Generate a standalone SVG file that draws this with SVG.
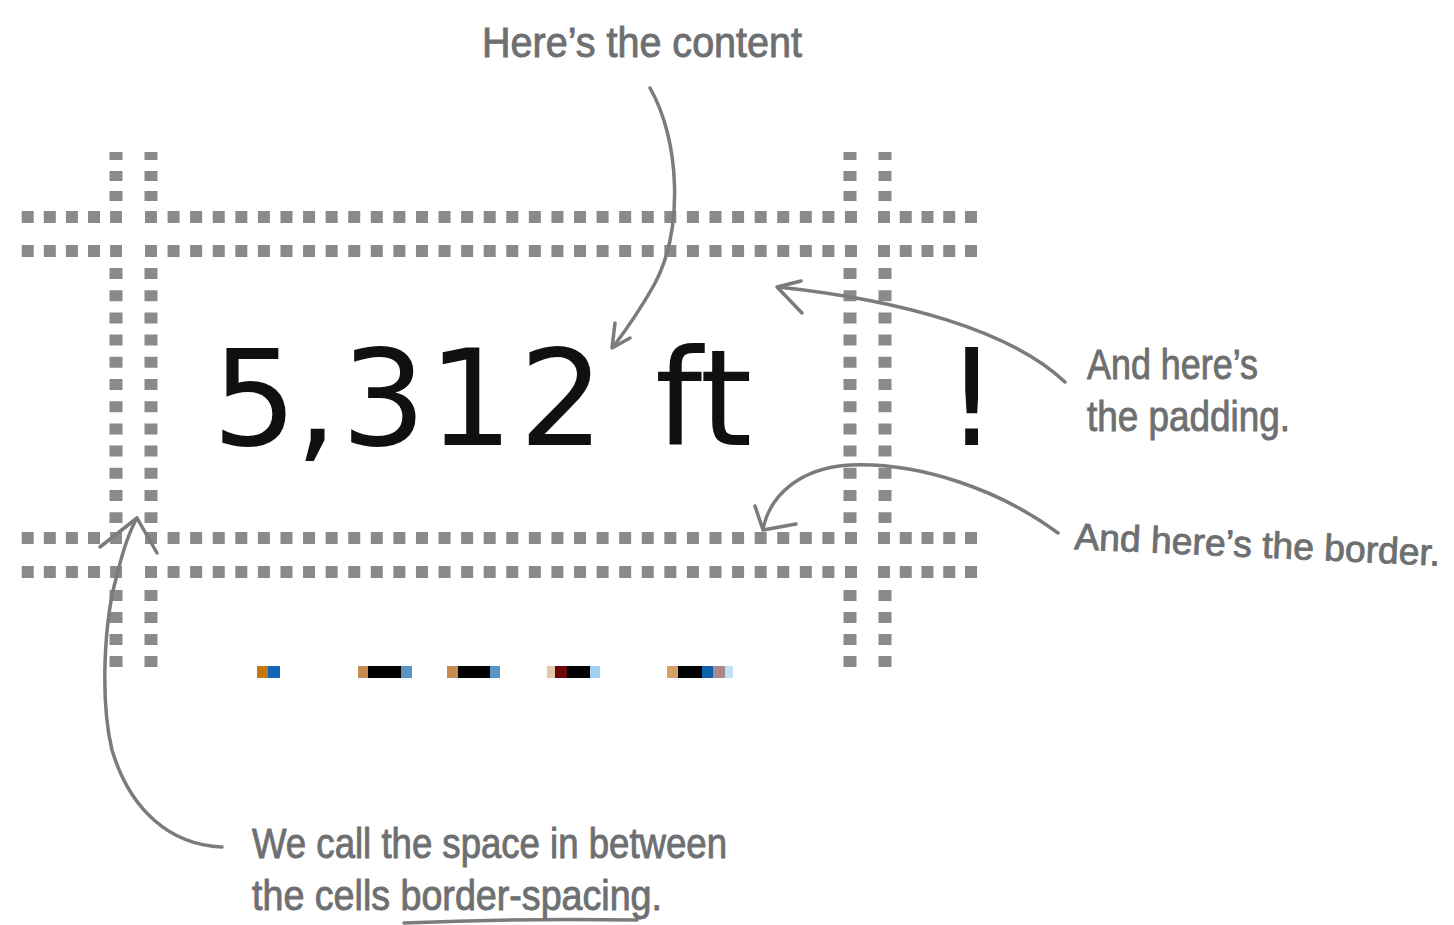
<svg xmlns="http://www.w3.org/2000/svg" width="1454" height="925" viewBox="0 0 1454 925">
  <style>
    .dotH { stroke: #8a8a8a; stroke-width: 12; fill: none; }
    .dotV { stroke: #8a8a8a; stroke-width: 13; fill: none; }
    .note { font-family: "Liberation Sans", Arial, sans-serif; font-size: 42px; fill: #6e6f71; stroke: #6e6f71; stroke-width: 0.9; }
    .note-sm { font-size: 37px; }
    .arrow { stroke: #7a7b7d; stroke-width: 3.5; fill: none; stroke-linecap: round; stroke-linejoin: round; }
    .big { font-family: "DejaVu Sans", Verdana, sans-serif; font-size: 134px; fill: #101010; }
  </style>
  <defs>
    <clipPath id="clipBang"><rect x="900" y="300" width="78" height="200"/></clipPath>
  </defs>
  <rect width="1454" height="925" fill="#ffffff"/>

  <g id="grid">
    <g id="row-lines">
      <line class="dotH" x1="21.7" y1="217" x2="122" y2="217" stroke-dasharray="12 10.1"/>
      <line class="dotH" x1="145" y1="217" x2="857" y2="217" stroke-dasharray="12 10.58"/>
      <line class="dotH" x1="878" y1="217" x2="977" y2="217" stroke-dasharray="12 9.75"/>
      <line class="dotH" x1="21.7" y1="251" x2="122" y2="251" stroke-dasharray="12 10.1"/>
      <line class="dotH" x1="145" y1="251" x2="857" y2="251" stroke-dasharray="12 10.58"/>
      <line class="dotH" x1="878" y1="251" x2="977" y2="251" stroke-dasharray="12 9.75"/>
      <line class="dotH" x1="21.7" y1="538" x2="122" y2="538" stroke-dasharray="12 10.1"/>
      <line class="dotH" x1="145" y1="538" x2="857" y2="538" stroke-dasharray="12 10.58"/>
      <line class="dotH" x1="878" y1="538" x2="977" y2="538" stroke-dasharray="12 9.75"/>
      <line class="dotH" x1="21.7" y1="572" x2="122" y2="572" stroke-dasharray="12 10.1"/>
      <line class="dotH" x1="145" y1="572" x2="857" y2="572" stroke-dasharray="12 10.58"/>
      <line class="dotH" x1="878" y1="572" x2="977" y2="572" stroke-dasharray="12 9.75"/>
    </g>
    <g id="col-lines">
      <line class="dotV" x1="116" y1="152" x2="116" y2="205" stroke-dasharray="8 11 10 10 10"/>
      <line class="dotV" x1="116" y1="268" x2="116" y2="523" stroke-dasharray="11 11.2"/>
      <line class="dotV" x1="116" y1="590" x2="116" y2="667" stroke-dasharray="11 11"/>
      <line class="dotV" x1="151" y1="152" x2="151" y2="205" stroke-dasharray="8 11 10 10 10"/>
      <line class="dotV" x1="151" y1="268" x2="151" y2="523" stroke-dasharray="11 11.2"/>
      <line class="dotV" x1="151" y1="590" x2="151" y2="667" stroke-dasharray="11 11"/>
      <line class="dotV" x1="850" y1="152" x2="850" y2="205" stroke-dasharray="8 11 10 10 10"/>
      <line class="dotV" x1="850" y1="268" x2="850" y2="523" stroke-dasharray="11 11.2"/>
      <line class="dotV" x1="850" y1="590" x2="850" y2="667" stroke-dasharray="11 11"/>
      <line class="dotV" x1="885" y1="152" x2="885" y2="205" stroke-dasharray="8 11 10 10 10"/>
      <line class="dotV" x1="885" y1="268" x2="885" y2="523" stroke-dasharray="11 11.2"/>
      <line class="dotV" x1="885" y1="590" x2="885" y2="667" stroke-dasharray="11 11"/>
    </g>
  </g>

  <g id="cell-content">
    <text class="big" x="212 295 341 428 519 600 655" y="445">5,312 ft</text>
  </g>

  <g id="next-cell" clip-path="url(#clipBang)">
    <text class="big" x="945" y="445">!</text>
  </g>

  <g id="next-row-fragments">
    <rect x="257" y="666" width="11" height="12" fill="#c07a10"/>
    <rect x="268" y="666" width="12" height="12" fill="#1565b8"/>
    <rect x="358" y="666" width="10" height="12" fill="#c88a4e"/>
    <rect x="368" y="666" width="33" height="12" fill="#000000"/>
    <rect x="401" y="666" width="11" height="12" fill="#5b95c6"/>
    <rect x="447" y="666" width="11" height="12" fill="#c88a4e"/>
    <rect x="458" y="666" width="32" height="12" fill="#000000"/>
    <rect x="490" y="666" width="10" height="12" fill="#5b95c6"/>
    <rect x="547" y="666" width="8" height="12" fill="#e6c6a6"/>
    <rect x="555" y="666" width="12" height="12" fill="#6a0808"/>
    <rect x="567" y="666" width="23" height="12" fill="#000000"/>
    <rect x="590" y="666" width="10" height="12" fill="#9fd2f2"/>
    <rect x="667" y="666" width="11" height="12" fill="#d6a060"/>
    <rect x="678" y="666" width="24" height="12" fill="#000000"/>
    <rect x="702" y="666" width="11" height="12" fill="#1160b0"/>
    <rect x="713" y="666" width="12" height="12" fill="#a88888"/>
    <rect x="725" y="666" width="8" height="12" fill="#bfe2f6"/>
  </g>

  <g id="connectors">
    <path class="arrow" d="M650,88 C680,140 684,230 654,285 C640,310 626,330 613,347"/>
    <path class="arrow" d="M615,323 L612,348 L630,338"/>
    <path class="arrow" d="M1065,382 C1010,330 900,300 778,287"/>
    <path class="arrow" d="M801,281 L777,287 L802,313"/>
    <path class="arrow" d="M1058,533 C1000,490 920,462 850,465 C800,468 770,495 763,529"/>
    <path class="arrow" d="M755,506 L763,530 L796,524"/>
    <path class="arrow" d="M222,847 C170,845 130,810 112,750 C100,700 104,620 117,575 C123,550 129,532 137,518"/>
    <path class="arrow" d="M100,547 L137,518 L157,553"/>
    <path class="arrow" d="M404,923 Q520,918 637,920" stroke-width="4"/>
  </g>

  <g id="label-content">
    <text class="note" x="482" y="57" textLength="320" lengthAdjust="spacingAndGlyphs">Here’s the content</text>
  </g>
  <g id="label-padding">
    <text class="note" x="1087" y="379" textLength="171" lengthAdjust="spacingAndGlyphs">And here’s</text>
    <text class="note" x="1087" y="431" textLength="203" lengthAdjust="spacingAndGlyphs">the padding.</text>
  </g>
  <g id="label-border">
    <text class="note note-sm" x="1074" y="549" textLength="366" lengthAdjust="spacingAndGlyphs" transform="rotate(2.6 1074 549)">And here’s the border.</text>
  </g>
  <g id="label-spacing">
    <text class="note" x="252" y="858" textLength="475" lengthAdjust="spacingAndGlyphs">We call the space in between</text>
    <text class="note" x="252" y="910" textLength="410" lengthAdjust="spacingAndGlyphs">the cells border-spacing.</text>
  </g>
</svg>
